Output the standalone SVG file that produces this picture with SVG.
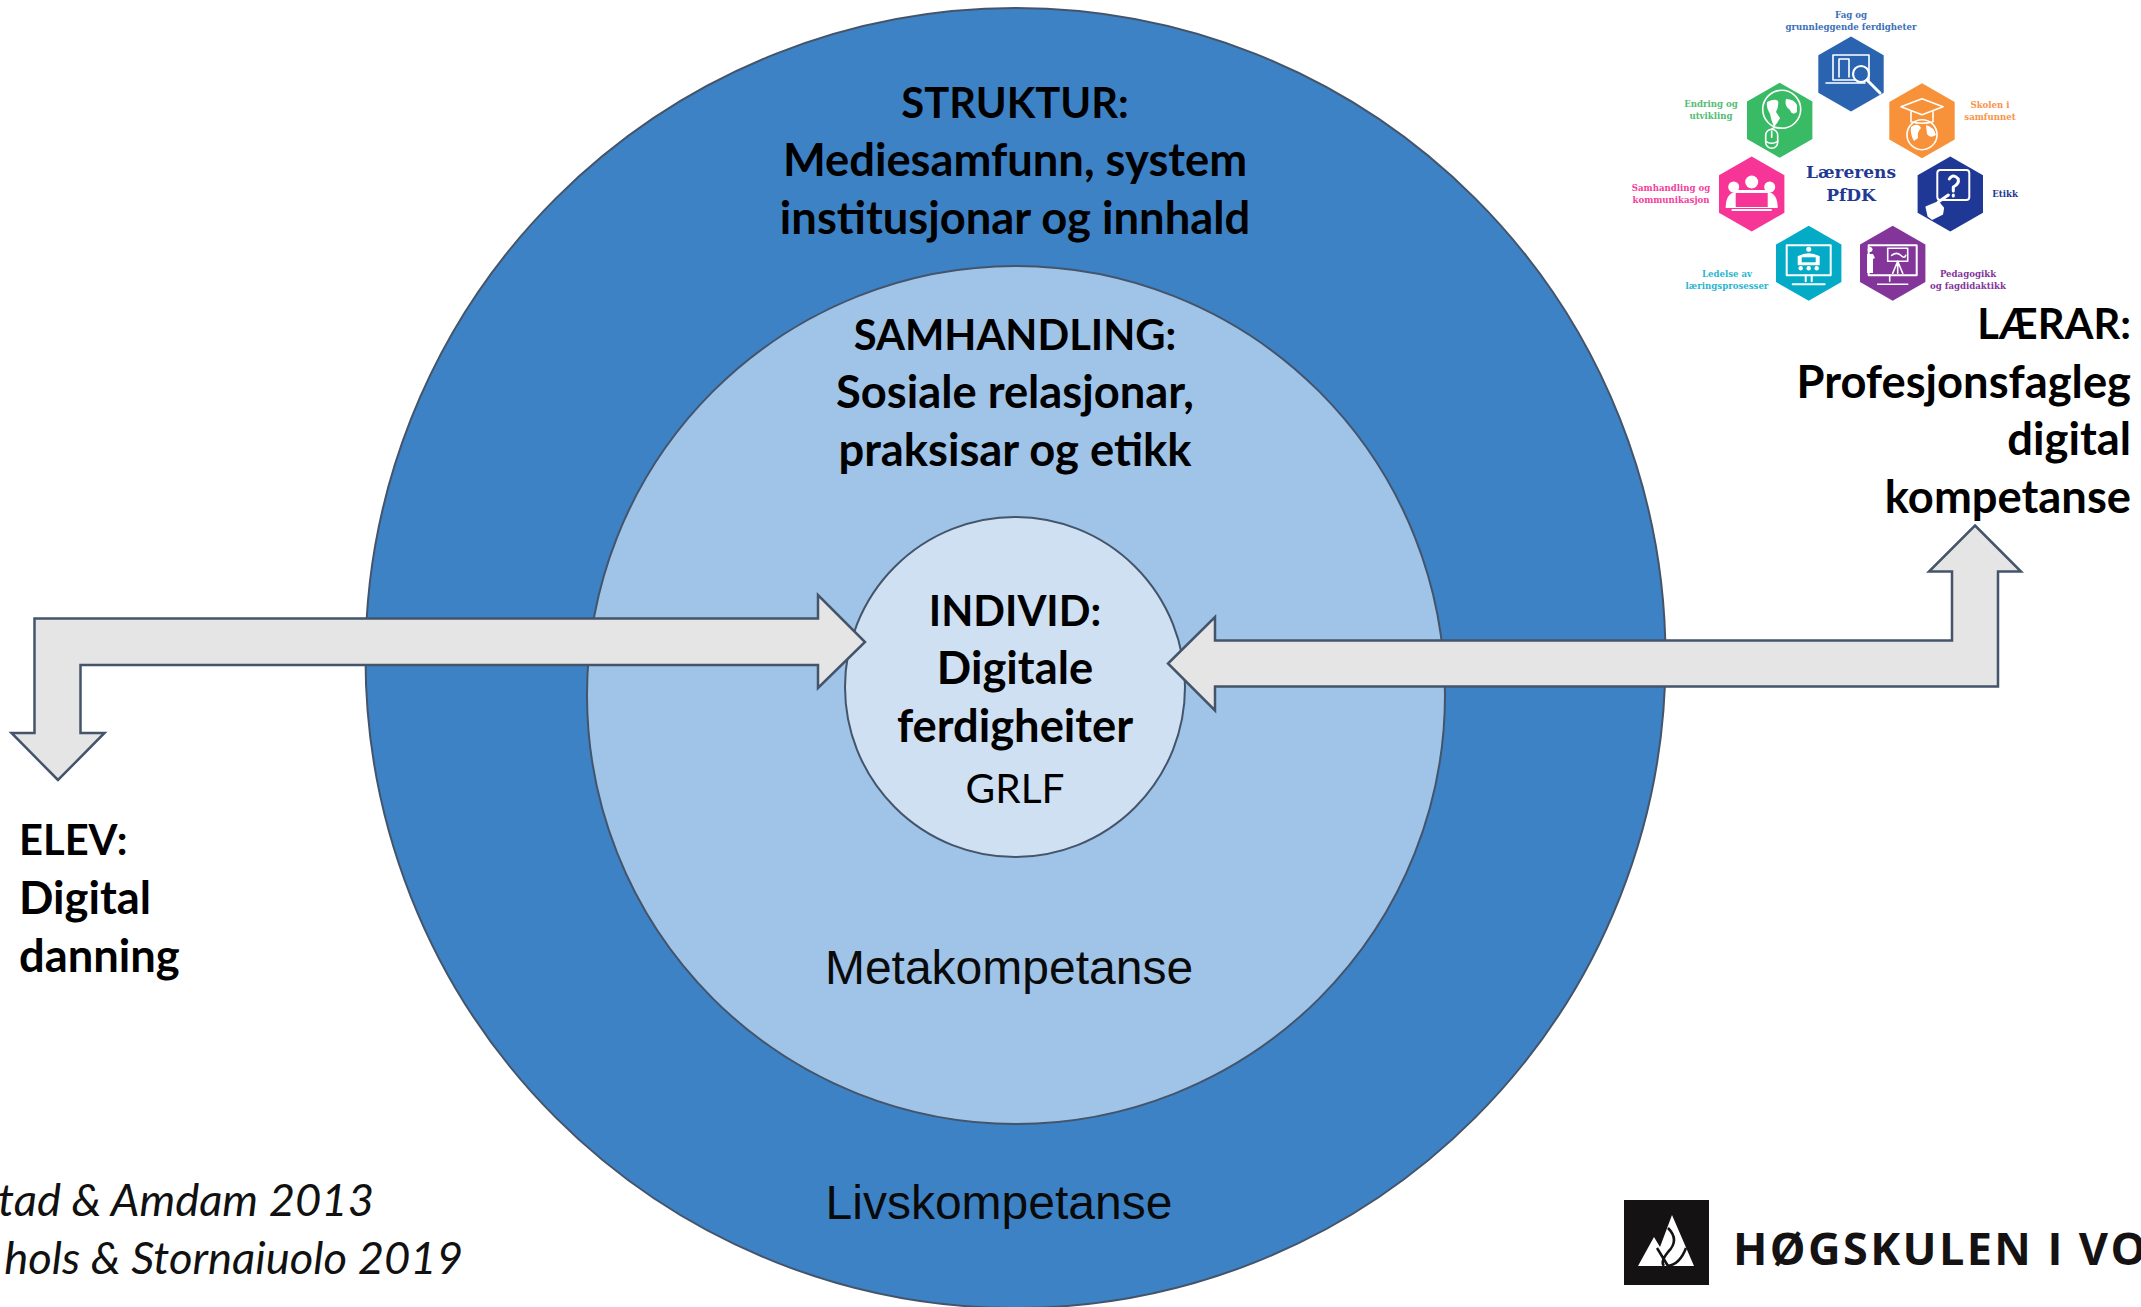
<svg xmlns="http://www.w3.org/2000/svg" width="2141" height="1307" viewBox="0 0 2141 1307">
<style>
.c{stroke:#44546a;stroke-width:2}
.a{fill:#e5e5e5;stroke:#44546a;stroke-width:2.5;stroke-linejoin:miter}
.t{font-family:"Lato","Open Sans",sans-serif;font-weight:700;font-size:45.3px;fill:#000;text-anchor:middle}
.k{font-size:41.7px}
.r{text-anchor:end}.l{text-anchor:start}
.n{font-family:"Lato","Open Sans",sans-serif;font-size:40.6px;fill:#000;text-anchor:middle}
.m{font-family:"Liberation Sans",Arial,sans-serif;font-size:48px;fill:#0a0a0a;text-anchor:middle}
.i{font-family:"Lato","Open Sans",sans-serif;font-style:italic;font-size:45.4px;fill:#111;text-anchor:end}
.s{font-family:"DejaVu Serif",serif;font-weight:700;font-size:8.6px;text-anchor:middle}
.ic{fill:none;stroke:#fff;stroke-width:1.6;stroke-linecap:round;stroke-linejoin:round}
.w{fill:#fff}
</style>
<defs><polygon id="hex" points="0,-37.5 32.7,-18.7 32.7,18.7 0,37.5 -32.7,18.7 -32.7,-18.7"/></defs>
<rect width="2141" height="1307" fill="#fff"/>
<g id="struktur"><ellipse class="c" cx="1015.5" cy="658" rx="650" ry="650" fill="#3e82c6"/>
<text class="t k" x="1015" y="118">STRUKTUR:</text><text class="t" x="1015" y="176">Mediesamfunn, system</text><text class="t" x="1015" y="234">institusjonar og innhald</text>
<text class="m" x="999" y="1219">Livskompetanse</text></g>
<g id="samhandling"><ellipse class="c" cx="1016" cy="695" rx="429" ry="429" fill="#9fc4e8"/>
<text class="t k" x="1015" y="350">SAMHANDLING:</text><text class="t" x="1015" y="408">Sosiale relasjonar,</text><text class="t" x="1015" y="466">praksisar og etikk</text>
<text class="m" x="1009" y="984">Metakompetanse</text></g>
<g id="individ"><ellipse class="c" cx="1015" cy="687" rx="170" ry="170" fill="#cfe0f2"/>
<text class="t k" x="1015" y="626">INDIVID:</text><text class="t" x="1015" y="684">Digitale</text><text class="t" x="1015" y="742">ferdigheiter</text><text class="n" x="1015" y="803">GRLF</text></g>
<g id="connectors">
<polygon class="a" points="58,780 11.5,733 34.5,733 34.5,618.5 818,618.5 818,595 865,642 818,688 818,665 80.5,665 80.5,733 104.5,733"/>
<polygon class="a" points="1975,525.5 2021,571.5 1998,571.5 1998,686.5 1215,686.5 1215,710.5 1168,663.5 1215,617 1215,640.5 1952,640.5 1952,571.5 1929,571.5"/>
</g>
<g id="elev"><text class="t k l" x="19" y="855">ELEV:</text><text class="t l" x="19" y="914">Digital</text><text class="t l" x="19" y="972">danning</text></g>
<g id="laerar"><text class="t k r" x="2131" y="339">LÆRAR:</text><text class="t r" x="2131" y="398">Profesjonsfagleg</text><text class="t r" x="2131" y="455">digital</text><text class="t r" x="2131" y="513">kompetanse</text></g>
<g id="refs"><text class="i" x="374" y="1216">tad &amp; Amdam 2013</text><text class="i" x="463" y="1274">hols &amp; Stornaiuolo 2019</text></g>
<g id="pfdk">
<text x="1851" y="178" font-family="DejaVu Serif,serif" font-weight="700" font-size="17" fill="#1f3a93" text-anchor="middle">Lærerens</text>
<text x="1851" y="201" font-family="DejaVu Serif,serif" font-weight="700" font-size="17" fill="#1f3a93" text-anchor="middle">PfDK</text>
<g id="hex-fag"><use href="#hex" x="1851" y="74" fill="#2a64b0"/>
<g class="ic" transform="translate(1851,74)"><rect x="-18" y="-19" width="36" height="25"/><path d="M-25,9H14M-12,-15V3M-2,-15V3M-12,-15H-2"/><circle cx="10" cy="0" r="8" fill="#2a64b0" stroke-width="2.2"/><path d="M16,6L29,19" stroke-width="3"/></g>
<text class="s" x="1851" y="18" fill="#3a6fb5">Fag og</text><text class="s" x="1851" y="30" fill="#3a6fb5">grunnleggende ferdigheter</text></g>
<g id="hex-skolen"><use href="#hex" x="1922" y="120.7" fill="#f7923a"/>
<g class="ic" transform="translate(1922,120.7)"><path d="M-21,-14L0,-22L21,-14L0,-6ZM-11,-10V1Q0,4 11,1V-10"/><circle cx="0" cy="14" r="15"/></g>
<path class="w" d="M1911,127Q1918,122 1921,128Q1917,132 1918,138L1914,141Q1910,134 1911,127ZM1926,125Q1934,127 1936,135Q1930,139 1927,134Z"/>
<text class="s" x="1990" y="108" fill="#f7944a">Skolen i</text><text class="s" x="1990" y="120" fill="#f7944a">samfunnet</text></g>
<g id="hex-etikk"><use href="#hex" x="1950.3" y="194" fill="#1f3795"/>
<g class="ic" transform="translate(1950.3,194)"><rect x="-13" y="-24" width="32" height="30" rx="3" stroke-width="2"/><path d="M-1,-15Q3,-21 8,-15Q9,-10 3,-7V-3" stroke-width="3"/><path d="M3,1V2" stroke-width="3"/><path d="M-24,13L-12,8L-7,14L-8,20L-18,25L-22,22Z" fill="#fff"/><path d="M-12,8L-2,1" stroke-width="3"/></g>
<text class="s" x="2005" y="197" fill="#1f3795">Etikk</text></g>
<g id="hex-pedagogikk"><use href="#hex" x="1892.7" y="263.3" fill="#83359a"/>
<g class="ic" transform="translate(1892.7,263.3)"><rect x="-24" y="-18" width="48" height="30" stroke-width="2"/><rect x="-5" y="-15" width="20" height="13"/><path d="M-1,-8Q4,-12 8,-8T13,-8M5,-2V10M0,10L5,-2L10,10M-3,12V18M-15,21H15"/></g>
<path class="w" d="M1870,252a2.5,2.5 0 1 1 .1,0ZM1867,254H1873L1875,258L1873,259V273H1867Z"/>
<text class="s" x="1968" y="277" fill="#83359a">Pedagogikk</text><text class="s" x="1968" y="289" fill="#83359a">og fagdidaktikk</text></g>
<g id="hex-ledelse"><use href="#hex" x="1808.7" y="263.3" fill="#03abc6"/>
<g class="ic" transform="translate(1808.7,263.3)"><rect x="-22" y="-18" width="44" height="30" stroke-width="2"/><path d="M-3,12V18M3,12V18M-16,21H16" stroke-width="2"/></g>
<g transform="translate(1808.7,263.3)"><circle class="w" cx="0" cy="-14" r="2.5"/><path class="w" d="M-11,-7Q0,-13 11,-7V2H-11Z"/><rect x="-7" y="-6" width="14" height="5" fill="#03abc6"/><circle class="w" cx="-8" cy="5" r="2.2"/><circle class="w" cx="0" cy="5" r="2.2"/><circle class="w" cx="8" cy="5" r="2.2"/></g>
<text class="s" x="1727" y="277" fill="#2cb5cf">Ledelse av</text><text class="s" x="1727" y="289" fill="#2cb5cf">læringsprosesser</text></g>
<g id="hex-samhandling"><use href="#hex" x="1751.7" y="194" fill="#f73596"/>
<g transform="translate(1751.7,194)"><circle class="w" cx="-18" cy="-7" r="5.5"/><circle class="w" cx="0" cy="-12" r="6.5"/><circle class="w" cx="18" cy="-7" r="5.5"/><path class="w" d="M-26,14Q-26,0 -17,-2V-4H17V-2Q26,0 26,14Z"/><rect x="-16" y="-1" width="32" height="14" fill="#f73596"/><rect class="w" x="-20" y="15" width="40" height="2"/></g>
<text class="s" x="1671" y="191" fill="#f4409c">Samhandling og</text><text class="s" x="1671" y="203" fill="#f4409c">kommunikasjon</text></g>
<g id="hex-endring"><use href="#hex" x="1779.7" y="120.3" fill="#39ba65"/>
<g class="ic" transform="translate(1779.7,120.3)"><circle cx="2" cy="-11" r="19"/><path d="M2,8Q-6,6 -8,9"/><rect x="-14" y="9" width="12" height="19" rx="6"/><path d="M-8,11V17M-14,21Q-8,25 -2,21"/></g>
<path class="w" d="M1767,102Q1775,98 1778,101Q1779,106 1776,112L1780,118Q1777,124 1774,127Q1771,120 1770,114Q1766,108 1767,102ZM1786,99Q1794,99 1797,105L1797,112Q1792,116 1790,110Q1784,106 1786,99Z"/>
<text class="s" x="1711" y="107" fill="#52bc74">Endring og</text><text class="s" x="1711" y="119" fill="#52bc74">utvikling</text></g>
</g>
<g id="logo"><rect x="1624" y="1200" width="85" height="85" fill="#141213"/>
<path d="M1638,1266L1654,1237L1660,1247L1672,1215L1694,1266Z" fill="#fff"/>
<path d="M1668,1228Q1680,1240 1668,1252Q1660,1262 1664,1266M1657,1248L1668,1266M1668,1266Q1680,1264 1686,1248" fill="none" stroke="#141213" stroke-width="2.5"/>
<text x="1733" y="1265" font-family="Open Sans,Noto Sans,sans-serif" font-weight="700" font-size="45" letter-spacing="2.4" fill="#141213">HØGSKULEN I VO</text></g>
</svg>
